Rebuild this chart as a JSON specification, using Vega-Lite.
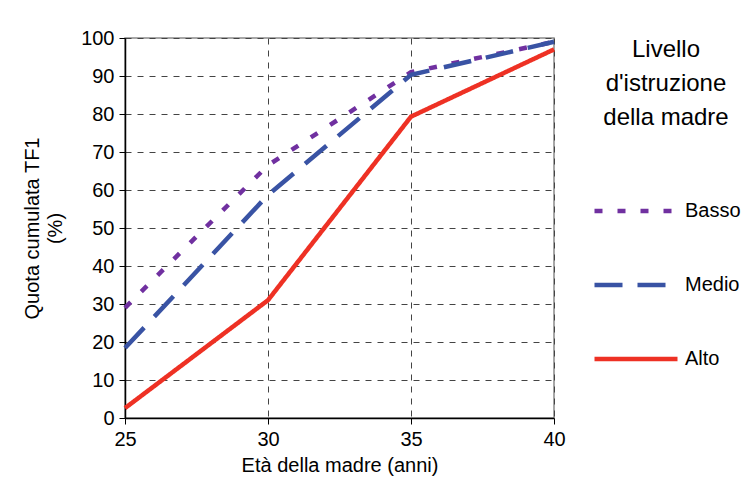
{
  "$schema": "https://vega.github.io/schema/vega-lite/v6.json",
  "width": 429,
  "height": 380,
  "autosize": {"type": "none"},
  "padding": {"left": 125, "top": 38, "right": 195, "bottom": 81},
  "background": "white",
  "config": {
    "font": "Liberation Sans",
    "view": {"stroke": "#8a8a8a", "strokeWidth": 1.5},
    "axis": {
      "labelFont": "Liberation Sans",
      "titleFont": "Liberation Sans",
      "labelFontSize": 20,
      "titleFontSize": 20,
      "labelColor": "black",
      "titleColor": "black",
      "titleFontWeight": "normal",
      "domainColor": "black",
      "domainWidth": 1.5,
      "tickColor": "black",
      "tickSize": 6,
      "labelFlush": false,
      "gridColor": "#444444",
      "gridDash": [6, 6],
      "gridWidth": 1,
      "gridOpacity": 1
    }
  },
  "data": {
    "values": [
      {"eta": 25, "quota": 29, "livello": "Basso"},
      {"eta": 30, "quota": 66.5, "livello": "Basso"},
      {"eta": 35, "quota": 91, "livello": "Basso"},
      {"eta": 40, "quota": 99, "livello": "Basso"},
      {"eta": 25, "quota": 18.4, "livello": "Medio"},
      {"eta": 30, "quota": 58.7, "livello": "Medio"},
      {"eta": 35, "quota": 90.3, "livello": "Medio"},
      {"eta": 40, "quota": 99, "livello": "Medio"},
      {"eta": 25, "quota": 2.6, "livello": "Alto"},
      {"eta": 30, "quota": 31, "livello": "Alto"},
      {"eta": 35, "quota": 79.3, "livello": "Alto"},
      {"eta": 40, "quota": 97, "livello": "Alto"}
    ]
  },
  "mark": {"type": "line", "strokeWidth": 4.5, "clip": false},
  "encoding": {
    "x": {
      "field": "eta",
      "type": "quantitative",
      "scale": {"domain": [25, 40], "nice": false, "zero": false},
      "axis": {"values": [25, 30, 35, 40], "title": "Età della madre (anni)", "titlePadding": 6, "labelPadding": 5, "grid": true}
    },
    "y": {
      "field": "quota",
      "type": "quantitative",
      "scale": {"domain": [0, 100], "nice": false},
      "axis": {"values": [0, 10, 20, 30, 40, 50, 60, 70, 80, 90, 100], "title": ["Quota cumulata TF1", "(%)"], "titlePadding": 15, "labelPadding": 5, "grid": true, "titleLineHeight": 23}
    },
    "color": {
      "field": "livello",
      "type": "nominal",
      "scale": {"domain": ["Basso", "Medio", "Alto"], "range": ["#7030A0", "#3953A4", "#EE3124"]},
      "legend": {
        "orient": "none",
        "legendX": 467,
        "legendY": 0,
        "title": ["Livello", "d'istruzione", "della madre"],
        "titleFont": "Liberation Sans",
        "titleFontSize": 24,
        "titleFontWeight": "normal",
        "titleColor": "black",
        "titleLineHeight": 34,
        "titleAlign": "center",
        "titleAnchor": "middle",
        "titlePadding": 37,
        "labelFont": "Liberation Sans",
        "labelFontSize": 20,
        "labelColor": "black",
        "labelOffset": 5,
        "symbolType": "stroke",
        "symbolSize": 6889,
        "symbolStrokeWidth": 4.5,
        "rowPadding": 20
      }
    },
    "strokeDash": {
      "field": "livello",
      "type": "nominal",
      "scale": {"domain": ["Basso", "Medio", "Alto"], "range": [[8, 15], [28, 15], [1, 0]]},
      "legend": null
    }
  }
}
